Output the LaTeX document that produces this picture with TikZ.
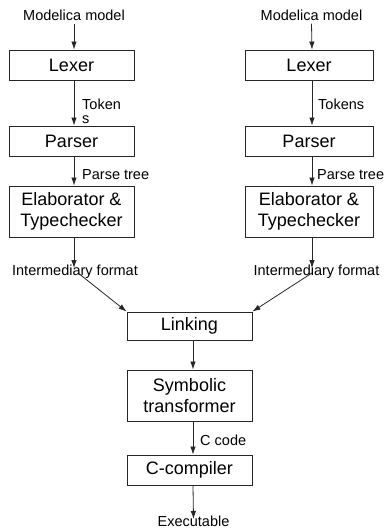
\documentclass[tikz,border=0pt]{standalone}
\usepackage{fontspec}
\setmainfont{Liberation Sans}
\usetikzlibrary{arrows.meta}
\begin{document}
\begin{tikzpicture}[x=1pt,y=-1pt,
  box/.style={draw=black!85,line width=0.9pt,inner sep=0pt,align=center,
    font=\fontsize{18}{21.6}\selectfont},
  lbl/.style={inner sep=0pt,font=\fontsize{14.5}{14}\selectfont},
  arr/.style={draw=black!85,line width=0.8pt,-{Latex[length=8pt,width=5.5pt]}}]
\useasboundingbox (0,0) rectangle (385,529);
% left column
\node[lbl] (modL) at (74,15) {Modelica model};
\node[box,minimum width=125pt,minimum height=30pt] (lexL) at (71.5,65) {Lexer};
\node[box,minimum width=125pt,minimum height=30pt] (parL) at (71.5,141) {Parser};
\node[box,minimum width=125pt,minimum height=51pt] (elaL) at (71.5,211.5) {Elaborator \&\\Typechecker};
\node[lbl] (intL) at (75,272) {Intermediary format};
\node[lbl,anchor=west,align=left] (tokL) at (82,111.5) {Token\\s};
\node[lbl,anchor=west] (ptL) at (82,175) {Parse tree};
% right column
\node[lbl] (modR) at (311.5,15) {Modelica model};
\node[box,minimum width=128pt,minimum height=30pt] (lexR) at (309,65) {Lexer};
\node[box,minimum width=128pt,minimum height=30pt] (parR) at (309,141) {Parser};
\node[box,minimum width=128pt,minimum height=51pt] (elaR) at (309,211.5) {Elaborator \&\\Typechecker};
\node[lbl] (intR) at (316.5,272) {Intermediary format};
\node[lbl,anchor=west] (tokR) at (318,104) {Tokens};
\node[lbl,anchor=west] (ptR) at (317,175) {Parse tree};
% lower column
\node[box,minimum width=125pt,minimum height=28pt] (link) at (189.5,326) {Linking};
\node[box,minimum width=125pt,minimum height=51pt] (sym) at (189.5,395.5) {Symbolic\\transformer};
\node[box,minimum width=125pt,minimum height=30pt] (cc) at (189.5,470) {C-compiler};
\node[lbl,anchor=west] (ccode) at (200,440) {C code};
\node[lbl] (exe) at (193.5,521.5) {Executable};
% arrows left
\draw[arr] ([yshift=-3pt]modL.south) -- ([xshift=2.5pt]lexL.north);
\draw[arr] ([xshift=2.5pt]lexL.south) -- ([xshift=2.5pt]parL.north);
\draw[arr] ([xshift=2.5pt]parL.south) -- ([xshift=2.5pt]elaL.north);
\draw[arr] ([xshift=2.5pt]elaL.south) -- ([xshift=-1pt,yshift=-3pt]intL.north);
% arrows right
\draw[arr] ([yshift=-3pt]modR.south) -- ([xshift=3pt]lexR.north);
\draw[arr] ([xshift=3pt]lexR.south) -- ([xshift=3pt]parR.north);
\draw[arr] ([xshift=3pt]parR.south) -- ([xshift=3pt]elaR.north);
\draw[arr] ([xshift=3pt]elaR.south) -- ([xshift=-4.5pt,yshift=-3pt]intR.north);
% merge
\draw[arr] ([xshift=3pt,yshift=6pt]intL.south) -- (link.north west);
\draw[arr] ([xshift=-4.5pt,yshift=6pt]intR.south) -- (link.north east);
% lower arrows
\draw[arr] ([xshift=3.5pt]link.south) -- ([xshift=3.5pt]sym.north);
\draw[arr] ([xshift=3.5pt]sym.south) -- ([xshift=3.5pt]cc.north);
\draw[arr] ([xshift=3.5pt]cc.south) -- ([yshift=-3pt]exe.north);
\end{tikzpicture}
\end{document}
